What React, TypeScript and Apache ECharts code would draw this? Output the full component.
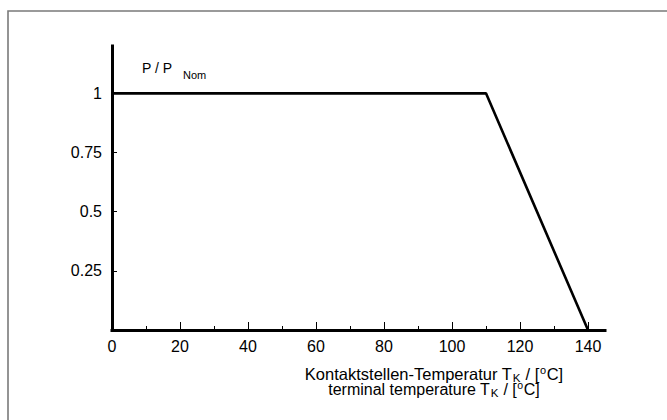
import { useEffect, useRef } from 'react';
import * as echarts from 'echarts';

const curveT = [0, 110, 140];
const curveP = [1, 1, 0];
const xLabels = [0, 20, 40, 60, 80, 100, 120, 140];
const xMajorTicks = [20, 40, 60, 80, 100, 120, 140];
const xMinorTicks = [10, 30, 50, 70, 90, 110, 130];
const yLabels = [0.25, 0.5, 0.75, 1];

const FONT = '"Liberation Sans", Arial, Helvetica, sans-serif';

type Seg = { t: string; size: number; dy?: number };

function measure(text: string, size: number): number {
  const c = document.createElement('canvas').getContext('2d');
  if (!c) return text.length * size * 0.5;
  c.font = `${size}px "Liberation Sans", Arial, sans-serif`;
  return c.measureText(text).width;
}

function richLine(segs: Seg[], cx: number, cy: number): any[] {
  const gap = 0.6;
  const widths = segs.map((s) => measure(s.t, s.size));
  const total = widths.reduce((a, b) => a + b, 0) + gap * (segs.length - 1);
  let x = cx - total / 2;
  return segs.map((s, i) => {
    const el = {
      type: 'text',
      x,
      y: cy + (s.dy || 0),
      silent: true,
      style: {
        text: s.t,
        fontSize: s.size,
        fontFamily: FONT,
        fill: '#000',
        align: 'left',
        verticalAlign: 'middle',
      },
    };
    x += widths[i] + gap;
    return el;
  });
}

export default function App() {
  const ref = useRef<HTMLDivElement>(null);
  useEffect(() => {
    if (!ref.current) return;
    const chart = echarts.init(ref.current, undefined, { renderer: 'svg' });
    const line1: Seg[] = [
      { t: 'Kontaktstellen-Temperatur T', size: 16.5 },
      { t: 'K', size: 11.5, dy: 4 },
      { t: ' / [', size: 16.5 },
      { t: 'o', size: 11, dy: -4.5 },
      { t: 'C]', size: 16.5 },
    ];
    const line2: Seg[] = [
      { t: 'terminal temperature T', size: 16 },
      { t: 'K', size: 11.5, dy: 4 },
      { t: ' / [', size: 16 },
      { t: 'o', size: 10.5, dy: -4 },
      { t: 'C]', size: 16 },
    ];
    const option: any = {
      animation: false,
      backgroundColor: '#fff',
      grid: { left: 112, right: 62, top: 46, bottom: 90 },
      xAxis: [
        {
          type: 'value',
          min: 0,
          max: 145,
          interval: 20,
          position: 'bottom',
          axisLine: { lineStyle: { color: '#000', width: 3, cap: 'square' } },
          axisTick: {
            inside: true,
            length: 8,
            lineStyle: { color: '#000', width: 1 },
            customValues: xMajorTicks,
          },
          axisLabel: {
            customValues: xLabels,
            color: '#000',
            fontSize: 16,
            fontFamily: FONT,
            margin: 8,
          },
          splitLine: { show: false },
        },
        {
          type: 'value',
          min: 0,
          max: 145,
          interval: 20,
          position: 'bottom',
          axisLine: { show: false },
          axisTick: {
            inside: true,
            length: 4,
            lineStyle: { color: '#000', width: 1 },
            customValues: xMinorTicks,
          },
          axisLabel: { show: false },
          splitLine: { show: false },
        },
      ],
      yAxis: {
        type: 'value',
        min: 0,
        max: 1.2,
        interval: 0.25,
        axisLine: { lineStyle: { color: '#000', width: 3, cap: 'square' } },
        axisTick: {
          inside: true,
          length: 5,
          lineStyle: { color: '#000', width: 1 },
          customValues: yLabels,
        },
        axisLabel: {
          customValues: yLabels,
          color: '#000',
          fontSize: 16,
          fontFamily: FONT,
          margin: 10,
        },
        splitLine: { show: false },
      },
      graphic: [
        {
          type: 'rect',
          silent: true,
          z: -10,
          shape: { x: 8, y: 11, width: 700, height: 500 },
          style: { fill: 'none', stroke: '#7a7a7a', lineWidth: 1.6 },
        },
        {
          type: 'text',
          x: 142,
          y: 68,
          silent: true,
          style: { text: 'P / P', fontSize: 14, fontFamily: FONT, fill: '#000', align: 'left', verticalAlign: 'middle' },
        },
        {
          type: 'text',
          x: 183,
          y: 74.5,
          silent: true,
          style: { text: 'Nom', fontSize: 11, fontFamily: FONT, fill: '#000', align: 'left', verticalAlign: 'middle' },
        },
        ...richLine(line1, 434, 374),
        ...richLine(line2, 434, 389),
      ],
      series: [
        {
          type: 'line',
          xAxisIndex: 0,
          data: curveT.map((t, i) => [t, curveP[i]]),
          symbol: 'none',
          clip: false,
          lineStyle: { color: '#000', width: 2.6 },
        },
      ],
    };
    chart.setOption(option);
    return () => chart.dispose();
  }, []);
  return (
    <div
      ref={ref}
      style={{ position: 'absolute', left: 0, top: 0, width: 667, height: 420 }}
    />
  );
}
